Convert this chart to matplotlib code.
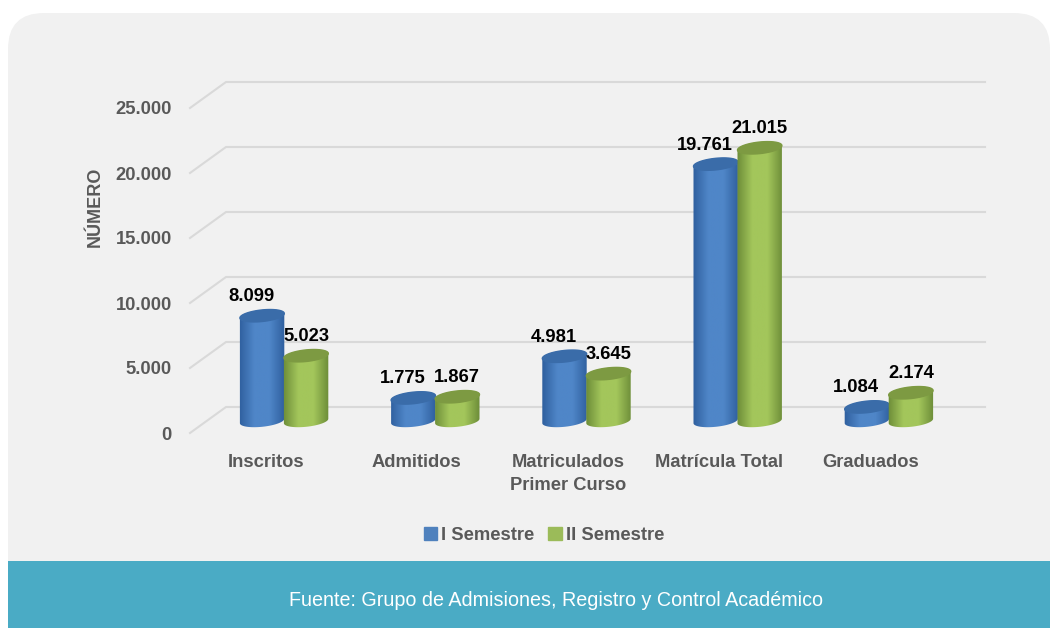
import numpy as np
import matplotlib
matplotlib.use("Agg")
import matplotlib.pyplot as plt
from matplotlib.colors import LinearSegmentedColormap
from matplotlib.patches import FancyBboxPatch, PathPatch, Patch, Rectangle
from matplotlib.path import Path

categories = ["Inscritos", "Admitidos", "Matriculados\nPrimer Curso", "Matrícula Total", "Graduados"]
semestre_1 = [8099, 1775, 4981, 19761, 1084]
semestre_2 = [5023, 1867, 3645, 21015, 2174]
series_names = ["I Semestre", "II Semestre"]
y_ticks = [0, 5000, 10000, 15000, 20000, 25000]

plt.rcParams["font.family"] = ["Liberation Sans"]
plt.rcParams["font.weight"] = "bold"

GREY = "#595959"
FONT = 13.2

# data units per pixel on the chart axes
PX_X = 5 / 756
PX_Y = 25000 / 325


def thousands(v):
    return f"{v:,}".replace(",", ".")


def ring(cx, base, a=22.2, b=5.8, tilt=0.1, t=None):
    if t is None:
        t = np.linspace(0, 2 * np.pi, 80)
    x = cx + a * np.cos(t) * PX_X
    y = base + (b * np.sin(t) + tilt * a * np.cos(t)) * PX_Y
    return x, y


def cylinder(ax, cx, base, value, edge, mid, top, z):
    # body: lower half of the base ring + upper half of the top ring
    xb, yb = ring(cx, base, t=np.linspace(np.pi, 2 * np.pi, 40))
    xt, yt = ring(cx, base + value, t=np.linspace(0, np.pi, 40))
    verts = np.r_[np.c_[xb, yb], np.c_[xt, yt], [[xb[0], yb[0]]]]
    clip = PathPatch(Path(verts), facecolor="none", edgecolor="none", transform=ax.transData)
    ax.add_patch(clip)
    cmap = LinearSegmentedColormap.from_list("cyl", [edge, mid, mid, edge], N=128)
    grad = np.linspace(0, 1, 128).reshape(1, -1)
    half = 23 * PX_X
    im = ax.imshow(grad, cmap=cmap, aspect="auto", zorder=z,
                   extent=[cx - half, cx + half, base - 10 * PX_Y, base + value + 10 * PX_Y])
    im.set_clip_path(clip)
    # top face
    xc, yc = ring(cx, base + value)
    ax.fill(xc, yc, color=top, zorder=z + 0.5, clip_on=False)


fig = plt.figure(figsize=(10.5, 6.28), dpi=100, facecolor="white")

# panel background and source band, in pixel coordinates
bg = fig.add_axes([0, 0, 1, 1], zorder=-1)
bg.set_xlim(0, 1050)
bg.set_ylim(628, 0)
bg.axis("off")
bg.add_patch(FancyBboxPatch((8, 13), 1042, 700, boxstyle="round,pad=0,rounding_size=36",
                            facecolor="#f1f1f1", edgecolor="none"))
bg.add_patch(Rectangle((8, 561), 1042, 67, facecolor="#4aabc5", edgecolor="none"))
bg.text(556, 600, "Fuente: Grupo de Admisiones, Registro y Control Académico",
        color="white", fontsize=14.2, fontweight="normal", ha="center", va="center")

ax = fig.add_axes([190 / 1050, (628 - 433) / 628, 756 / 1050, 325 / 628])
ax.patch.set_visible(False)
for s in ax.spines.values():
    s.set_visible(False)

# gridlines on the back wall, joined to the front edge
depth_x = 36 * PX_X
depth_y = 26 * PX_Y
xmin, xmax = -0.5, 4.5
for v in y_ticks:
    ax.plot([xmin, xmin + depth_x, xmax + depth_x + 3 * PX_X], [v, v + depth_y, v + depth_y],
            color="#d9d9d9", lw=1.5, clip_on=False, zorder=1, solid_joinstyle="miter")

# bars sit halfway into the floor
bar_dx = 18 * PX_X
base = 12 * PX_Y
step = 44 * PX_X
for i, (v1, v2) in enumerate(zip(semestre_1, semestre_2)):
    c1 = i + bar_dx + (261.5 - 283) * PX_X
    c2 = c1 + step
    cylinder(ax, c1, base, v1, "#2f5f9e", "#4f86c8", "#3a6ca9", 10 + i * 2)
    cylinder(ax, c2, base, v2, "#6c8c38", "#a3c65b", "#7d9a42", 11 + i * 2)
    ax.text(c1 - 10.5 * PX_X, base + v1 + 19 * PX_Y, thousands(v1), color="black", fontsize=FONT,
            ha="center", va="center", zorder=30)
    ax.text(c2, base + v2 + 19 * PX_Y, thousands(v2), color="black", fontsize=FONT,
            ha="center", va="center", zorder=30)

ax.set_xlim(xmin, xmax)
ax.set_ylim(0, 25000)
ax.set_xticks(range(len(categories)))
ax.set_xticklabels(categories, color=GREY, fontsize=FONT, linespacing=1.5)
ax.set_yticks(y_ticks)
ax.set_yticklabels([thousands(v) for v in y_ticks], color=GREY, fontsize=FONT)
ax.tick_params(axis="both", length=0)
ax.tick_params(axis="y", pad=13)
ax.tick_params(axis="x", pad=15)

fig.text(95 / 1050, 1 - 207 / 628, "NÚMERO", color=GREY, fontsize=13, rotation=90,
         ha="center", va="center")

handles = [Patch(color="#4f81bd"), Patch(color="#9bbb59")]
fig.legend(handles, series_names, loc="center", bbox_to_anchor=(544 / 1050, 1 - 535 / 628),
           ncol=2, frameon=False, fontsize=FONT, labelcolor=GREY, handlelength=0.72,
           handleheight=0.72, handletextpad=0.25, columnspacing=0.75)

fig.savefig("out.png", dpi=100)
